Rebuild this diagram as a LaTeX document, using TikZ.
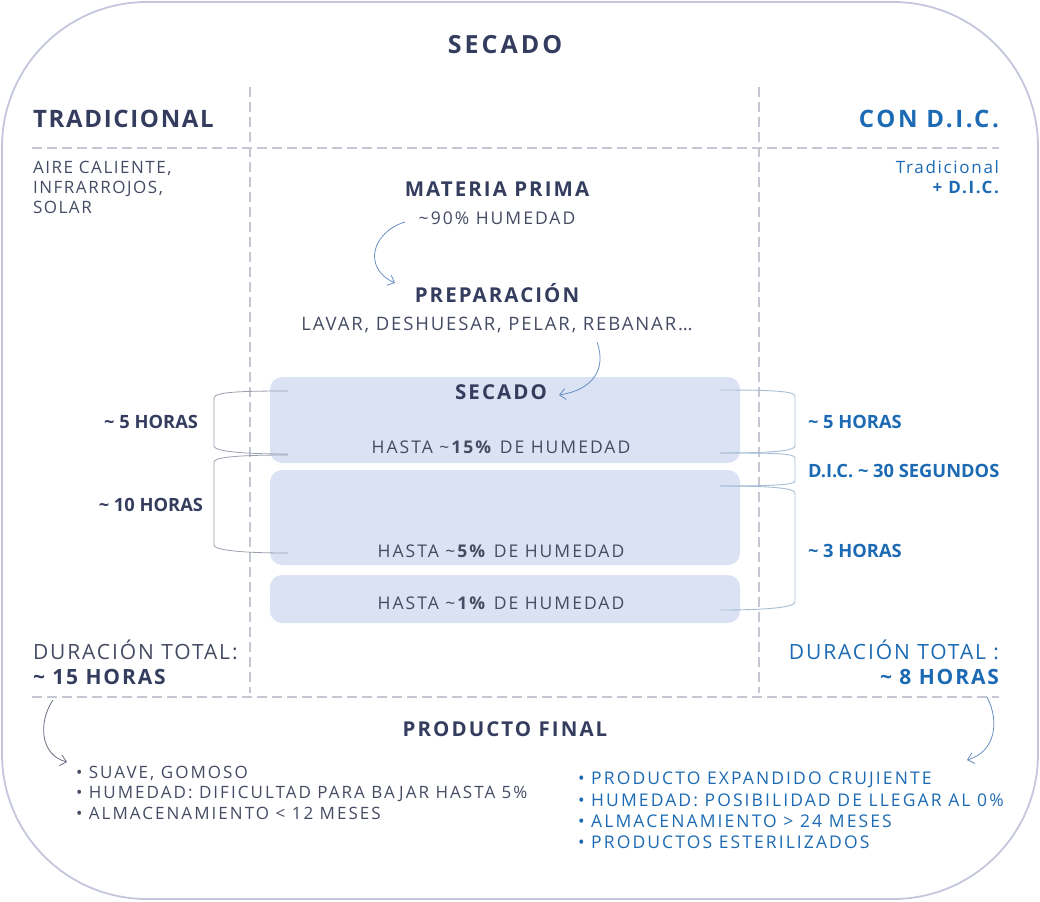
\documentclass[tikz,border=0pt]{standalone}
\usepackage{fontspec}
\setmainfont{Open Sans}
\newfontfamily\lsTitle[LetterSpace=12]{Open Sans}
\newfontfamily\lsTrad[LetterSpace=7]{Open Sans}
\newfontfamily\lsDic[LetterSpace=11]{Open Sans}
\newfontfamily\lsSub[LetterSpace=10]{Open Sans}
\newfontfamily\lsBody[LetterSpace=11.5]{Open Sans}
\newfontfamily\lsPrep[LetterSpace=10]{Open Sans}
\newfontfamily\lsSide[LetterSpace=9]{Open Sans}
\newfontfamily\lsSideB[LetterSpace=10]{Open Sans}
\newfontfamily\lsList[LetterSpace=12]{Open Sans}
\newfontfamily\lsTot[LetterSpace=9]{Open Sans}
\usetikzlibrary{arrows.meta}
\definecolor{navy}{HTML}{353D5F}
\definecolor{greytext}{HTML}{444B63}
\definecolor{dicblue}{HTML}{1C6AB3}
\definecolor{frame}{HTML}{C4C7DC}
\definecolor{sepgrey}{HTML}{C5C8D2}
\definecolor{boxfill}{HTML}{DAE2F3}
\definecolor{arrowblue}{HTML}{6A8EC4}
\definecolor{brackgrey}{HTML}{9AA0AE}
\definecolor{brackblue}{HTML}{A6BDD6}
\tikzset{
  every node/.style={inner sep=0pt, outer sep=0pt},
  outerframe/.style={draw=frame, line width=1.8pt, rounded corners=145pt},
  sepline/.style={draw=sepgrey, line width=1.3pt, dash pattern=on 10pt off 5pt},
  stagebox/.style={fill=boxfill, rounded corners=12pt, minimum width=470pt},
  title/.style={font=\lsTitle\bfseries\fontsize{25}{30}\selectfont, text=navy},
  heading/.style={font=\lsTrad\bfseries\fontsize{24}{28}\selectfont, text=navy},
  headingblue/.style={font=\lsDic\bfseries\fontsize{24}{28}\selectfont, text=dicblue},
  subhead/.style={font=\lsSub\bfseries\fontsize{20.5}{24}\selectfont, text=navy},
  body/.style={font=\lsBody\fontsize{17.5}{20}\selectfont, text=greytext},
  prepbody/.style={font=\lsPrep\fontsize{18.5}{22}\selectfont, text=greytext},
  side/.style={font=\lsSide\fontsize{17}{20}\selectfont, text=greytext},
  sideblue/.style={font=\lsSideB\fontsize{17}{20}\selectfont, text=dicblue},
  hours/.style={font=\bfseries\fontsize{18.3}{22}\selectfont, text=navy},
  hoursblue/.style={font=\bfseries\fontsize{18.3}{22}\selectfont, text=dicblue},
  total/.style={font=\lsTot\fontsize{21}{26}\selectfont, text=greytext},
  totalblue/.style={font=\lsTot\fontsize{21}{26}\selectfont, text=dicblue},
  totalb/.style={font=\lsTot\bfseries\fontsize{21}{26}\selectfont, text=navy},
  totalbblue/.style={font=\lsTot\bfseries\fontsize{21}{26}\selectfont, text=dicblue},
  listl/.style={font=\lsList\fontsize{17}{20}\selectfont, text=greytext},
  listr/.style={font=\lsList\fontsize{17.5}{21}\selectfont, text=dicblue},
  flow/.style={draw=arrowblue, line width=0.8pt, -{Straight Barb[length=6pt,width=11pt]}},
  brackl/.style={draw=brackgrey, line width=0.8pt},
  brackr/.style={draw=brackblue, line width=0.9pt},
}
\begin{document}
\begin{tikzpicture}[x=1pt,y=-1pt]
\useasboundingbox (0,0) rectangle (1040,901);
\draw[outerframe] (2,2) rectangle (1038,899);

% separators
\draw[sepline] (250,87) -- (250,693);
\draw[sepline] (759,87) -- (759,693);
\draw[sepline] (32,148) -- (999,148);
\draw[sepline] (32,697) -- (999,697);

% stage boxes
\node[stagebox, minimum height=86pt] (b1) at (505,420) {};
\node[stagebox, minimum height=95pt] (b2) at (505,517.5) {};
\node[stagebox, minimum height=48pt] (b3) at (505,599) {};

% headings
\node[title, anchor=base] (ttl) at (505,54) {SECADO};
\node[heading, anchor=base west] (trad) at (33,128) {TRADICIONAL};
\node[headingblue, anchor=base east] (dic) at (999,128) {CON D.I.C.};

\node[side, anchor=base west] (t1) at (33,174) {AIRE CALIENTE,};
\node[side, anchor=base west] (t2) at (33,194) {INFRARROJOS,};
\node[side, anchor=base west] (t3) at (33,214) {SOLAR};
\node[sideblue, anchor=base east] (d1) at (999,174) {Tradicional};
\node[sideblue, anchor=base east, font=\lsSideB\bfseries\fontsize{17}{20}\selectfont] (d2) at (999,194) {+ D.I.C.};

% process
\node[subhead, anchor=base] (mp) at (497,197) {MATERIA PRIMA};
\node[body, anchor=base] (mph) at (497,225) {\textasciitilde 90\% HUMEDAD};
\node[subhead, anchor=base] (prep) at (497,302) {PREPARACIÓN};
\node[prepbody, anchor=base] (preps) at (497,330) {LAVAR, DESHUESAR, PELAR, REBANAR…};
\node[subhead, anchor=base] (sec) at (501,399) {SECADO};
\node[body, anchor=base] (h15) at (501,453) {HASTA \textasciitilde\textbf{15\%} DE HUMEDAD};
\node[body, anchor=base] (h5) at (501,557) {HASTA \textasciitilde\textbf{5\%} DE HUMEDAD};
\node[body, anchor=base] (h1) at (501,609) {HASTA \textasciitilde\textbf{1\%} DE HUMEDAD};

\coordinate (a1s) at (405,222);
\coordinate (a1e) at (395,283);
\draw[flow] (a1s) .. controls (372,232) and (362,268) .. (a1e);
\coordinate (a2s) at (597,342);
\coordinate (a2e) at (559,395);
\draw[flow] (a2s) .. controls (607,370) and (592,390) .. (a2e);

% left brackets
\draw[brackl] (288,391) .. controls (240,391) and (214,392) .. (214,398) -- (214,446) .. controls (214,451) and (240,454) .. (288,454);
\draw[brackl] (288,455) .. controls (240,455) and (214,457) .. (214,462) -- (214,545) .. controls (214,550) and (240,553) .. (288,553);
\node[hours, anchor=base east] (l5) at (198,428) {\textasciitilde{} 5 HORAS};
\node[hours, anchor=base east] (l10) at (203,511) {\textasciitilde{} 10 HORAS};

% right brackets
\draw[brackr] (720,390) .. controls (770,390) and (795,391) .. (795,396) -- (795,446) .. controls (795,451) and (770,453) .. (720,453);
\draw[brackr] (720,453) .. controls (770,453) and (795,453) .. (795,458) -- (795,481) .. controls (795,485) and (770,486) .. (720,486);
\draw[brackr] (720,486) .. controls (770,486) and (795,488) .. (795,493) -- (795,602) .. controls (795,607) and (770,610) .. (720,610);
\node[hoursblue, anchor=base west] (r5) at (808,428) {\textasciitilde{} 5 HORAS};
\node[hoursblue, anchor=base west] (r30) at (808,477) {D.I.C. \textasciitilde{} 30 SEGUNDOS};
\node[hoursblue, anchor=base west] (r3) at (808,557) {\textasciitilde{} 3 HORAS};

% totals
\node[total, anchor=base west] (tot1) at (33,659) {DURACIÓN TOTAL:};
\node[totalb, anchor=base west] (tot1b) at (33,684) {\textasciitilde{} 15 HORAS};
\node[totalblue, anchor=base east] (tot2) at (999,659) {DURACIÓN TOTAL :};
\node[totalbblue, anchor=base east] (tot2b) at (999,684) {\textasciitilde{} 8 HORAS};

% final product
\node[subhead, anchor=base] (pf) at (505,736) {PRODUCTO FINAL};
\node[listl, anchor=base west] (ll1) at (76,778) {• SUAVE, GOMOSO};
\node[listl, anchor=base west] (ll2) at (76,798) {• HUMEDAD: DIFICULTAD PARA BAJAR HASTA 5\%};
\node[listl, anchor=base west] (ll3) at (76,819) {• ALMACENAMIENTO < 12 MESES};
\node[listr, anchor=base west] (lr1) at (578,784) {• PRODUCTO EXPANDIDO CRUJIENTE};
\node[listr, anchor=base west] (lr2) at (578,806) {• HUMEDAD: POSIBILIDAD DE LLEGAR AL 0\%};
\node[listr, anchor=base west] (lr3) at (578,827) {• ALMACENAMIENTO > 24 MESES};
\node[listr, anchor=base west] (lr4) at (578,848) {• PRODUCTOS ESTERILIZADOS};

\coordinate (a3s) at (53,700);
\coordinate (a3e) at (67,762);
\draw[flow, draw=greytext!80] (a3s) .. controls (38,722) and (40,755) .. (a3e);
\coordinate (a4s) at (987,697);
\coordinate (a4e) at (967,760);
\draw[flow] (a4s) .. controls (1000,722) and (995,752) .. (a4e);
\end{tikzpicture}
\end{document}
